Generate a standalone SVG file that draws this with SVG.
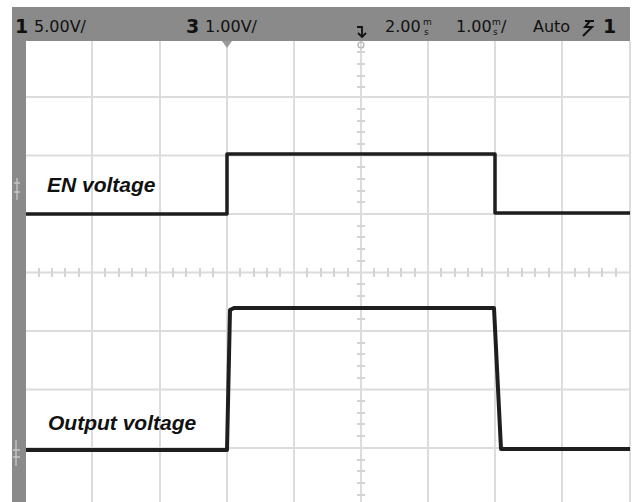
<svg xmlns="http://www.w3.org/2000/svg" width="633" height="502" viewBox="0 0 633 502">
<defs>
<style>
.grid{stroke:#dcdcdc;stroke-width:2;fill:none}
.tick{stroke:#d4d4d4;stroke-width:2}
.trace{stroke:#1e1e1e;stroke-width:3.5;fill:none;stroke-linejoin:round}
.hdr{font-family:"DejaVu Sans",sans-serif;font-size:16px;fill:#111}
.sm{font-family:"DejaVu Sans",sans-serif;font-size:9px;fill:#111}
.num{font-family:"DejaVu Sans",sans-serif;font-weight:bold;font-size:19px;fill:#111}
.lbl{font-family:"Liberation Sans",Arial,sans-serif;font-weight:bold;font-style:italic;font-size:21px;fill:#111}
</style>
</defs>
<rect width="633" height="502" fill="#ffffff"/>
<g id="grid">
<path class="grid" d="M92 41V502M160 41V502M227 41V502M294 41V502M361 41V502M428 41V502M495 41V502M562 41V502M630 41V502"/>
<path class="grid" d="M26 97H630M26 155.5H630M26 214H630M26 272.5H630M26 331H630M26 389.5H630M26 448H630"/>
<path class="tick" d="M39 268V277M52 268V277M65 268V277M79 268V277M105 268V277M119 268V277M132 268V277M146 268V277M173 268V277M186 268V277M200 268V277M213 268V277M240 268V277M254 268V277M267 268V277M280 268V277M307 268V277M321 268V277M334 268V277M348 268V277M374 268V277M388 268V277M401 268V277M415 268V277M441 268V277M455 268V277M468 268V277M482 268V277M508 268V277M522 268V277M535 268V277M549 268V277M575 268V277M589 268V277M602 268V277M616 268V277"/>
<path class="tick" d="M357 52H365M357 64H365M357 76H365M357 87H365M357 109H365M357 121H365M357 132H365M357 144H365M357 167H365M357 179H365M357 191H365M357 202H365M357 226H365M357 237H365M357 249H365M357 261H365M357 284H365M357 296H365M357 308H365M357 319H365M357 343H365M357 354H365M357 366H365M357 378H365M357 401H365M357 413H365M357 424H365M357 436H365M357 460H365M357 471H365M357 483H365M357 495H365"/>
</g>
<g id="frame">
<rect x="12" y="7" width="618" height="34" fill="#8a8a8a"/>
<rect x="12" y="7" width="14" height="495" fill="#8a8a8a"/>
<path d="M222 41H232L227 48Z" fill="#9a9a9a"/>
<circle cx="361" cy="45" r="3" fill="none" stroke="#b0b0b0" stroke-width="1.2"/>
<path d="M17 178V200M14 183H20M14 192H20" stroke="#c8c8c8" stroke-width="1.3" fill="none"/>
<path d="M16 440V466M13 450H20M13 457H20" stroke="#c8c8c8" stroke-width="1.3" fill="none"/>
</g>
<g id="header">
<text class="num" x="15" y="33">1</text>
<text class="hdr" x="34" y="32">5.00V/</text>
<text class="num" x="186" y="33">3</text>
<text class="hdr" x="205" y="32">1.00V/</text>
<path d="M357 27H362V37M358 33L362 37L366 33" stroke="#111" stroke-width="1.8" fill="none"/>
<text class="hdr" x="385" y="32">2.00</text>
<text class="sm" x="423" y="25">m</text>
<text class="sm" x="424" y="35">s</text>
<text class="hdr" x="456" y="32">1.00</text>
<text class="sm" x="492" y="25">m</text>
<text class="sm" x="493" y="35">s</text>
<text class="hdr" x="501" y="32">/</text>
<text class="hdr" x="533" y="32">Auto</text>
<path d="M590 21L585 27H592L583 36M585 21H594" stroke="#111" stroke-width="2" fill="none"/>
<text class="num" x="603" y="33">1</text>
</g>
<g id="traces">
<path class="trace" d="M26 214H227V154H495V213H630"/>
<path class="trace" style="stroke-width:4" d="M26 450H227L230 310L234 308H494L501 449H630"/>
</g>
<g id="labels">
<text class="lbl" x="47" y="192">EN voltage</text>
<text class="lbl" x="48" y="430">Output voltage</text>
</g>
</svg>
